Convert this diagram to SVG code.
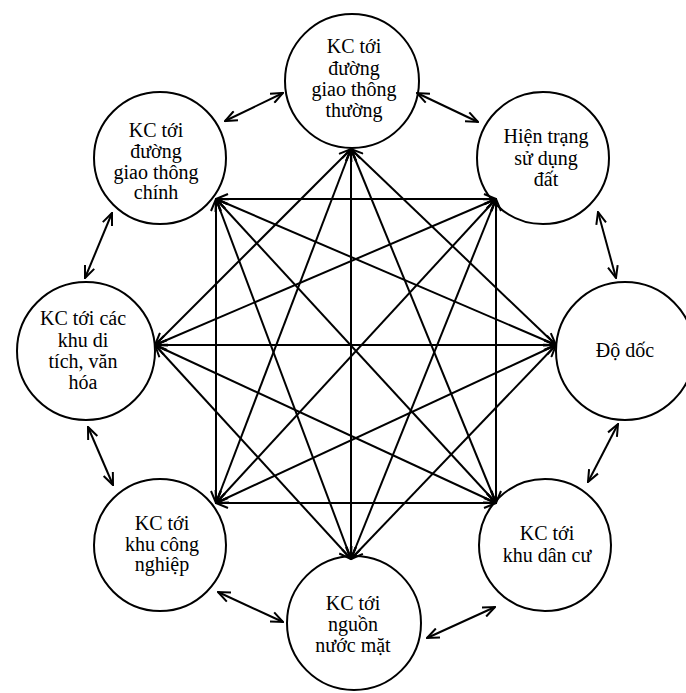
<svg xmlns="http://www.w3.org/2000/svg" width="686" height="693" viewBox="0 0 686 693">
<style>
.n{fill:#fff;stroke:#000;stroke-width:2}
.t{font-family:"Liberation Serif","Times New Roman",serif;font-size:20px;fill:#000;text-anchor:middle}
.c line{stroke:#000;stroke-width:2;marker-start:url(#a);marker-end:url(#a)}
</style>
<defs>
<marker id="a" viewBox="0 0 14 12" refX="13" refY="6" markerWidth="14" markerHeight="12" markerUnits="userSpaceOnUse" orient="auto-start-reverse">
<path d="M1,1 L13,6 L1,11" fill="none" stroke="#000" stroke-width="2"/>
</marker>
</defs>
<g id="nodes">
<g id="n-top"><circle class="n" cx="352" cy="81" r="67"/>
<text class="t" x="354" y="53">KC tới</text><text class="t" x="354" y="75">đường</text><text class="t" x="354" y="96">giao thông</text><text class="t" x="354" y="117">thường</text></g>
<g id="n-tr"><circle class="n" cx="543" cy="158" r="66"/>
<text class="t" x="546" y="143">Hiện trạng</text><text class="t" x="546" y="165">sử dụng</text><text class="t" x="546" y="186">đất</text></g>
<g id="n-r"><circle class="n" cx="625" cy="351" r="69"/>
<text class="t" x="625" y="357">Độ dốc</text></g>
<g id="n-br"><circle class="n" cx="545" cy="545" r="66"/>
<text class="t" x="547" y="540">KC tới</text><text class="t" x="547" y="562">khu dân cư</text></g>
<g id="n-b"><circle class="n" cx="354" cy="623" r="67"/>
<text class="t" x="353" y="610">KC tới</text><text class="t" x="353" y="631">nguồn</text><text class="t" x="353" y="652">nước mặt</text></g>
<g id="n-bl"><circle class="n" cx="160" cy="545" r="66"/>
<text class="t" x="162" y="530">KC tới</text><text class="t" x="162" y="551">khu công</text><text class="t" x="162" y="571">nghiệp</text></g>
<g id="n-l"><circle class="n" cx="86" cy="351" r="69"/>
<text class="t" x="83" y="325">KC tới các</text><text class="t" x="83" y="347">khu di</text><text class="t" x="83" y="368">tích, văn</text><text class="t" x="83" y="389">hóa</text></g>
<g id="n-tl"><circle class="n" cx="160" cy="158" r="66"/>
<text class="t" x="156" y="137">KC tới</text><text class="t" x="156" y="158">đường</text><text class="t" x="156" y="179">giao thông</text><text class="t" x="156" y="199">chính</text></g>
</g>
<g id="connectors" class="c">
<line x1="225" y1="121" x2="283" y2="93"/>
<line x1="417" y1="93" x2="478" y2="122"/>
<line x1="598" y1="212" x2="616" y2="278"/>
<line x1="618" y1="424" x2="588" y2="482"/>
<line x1="495" y1="607" x2="427" y2="638"/>
<line x1="283" y1="622" x2="218" y2="592"/>
<line x1="113" y1="485" x2="88" y2="427"/>
<line x1="85" y1="278" x2="112" y2="213"/>
<line x1="351" y1="149" x2="556" y2="345"/>
<line x1="351" y1="149" x2="496" y2="503"/>
<line x1="351" y1="149" x2="351" y2="559"/>
<line x1="351" y1="149" x2="216" y2="503"/>
<line x1="351" y1="149" x2="155" y2="345"/>
<line x1="496" y1="199" x2="496" y2="503"/>
<line x1="496" y1="199" x2="351" y2="559"/>
<line x1="496" y1="199" x2="216" y2="503"/>
<line x1="496" y1="199" x2="155" y2="345"/>
<line x1="496" y1="199" x2="216" y2="199"/>
<line x1="556" y1="345" x2="351" y2="559"/>
<line x1="556" y1="345" x2="216" y2="503"/>
<line x1="556" y1="345" x2="155" y2="345"/>
<line x1="556" y1="345" x2="216" y2="199"/>
<line x1="496" y1="503" x2="216" y2="503"/>
<line x1="496" y1="503" x2="155" y2="345"/>
<line x1="496" y1="503" x2="216" y2="199"/>
<line x1="351" y1="559" x2="155" y2="345"/>
<line x1="351" y1="559" x2="216" y2="199"/>
<line x1="216" y1="503" x2="216" y2="199"/>
</g>
</svg>
